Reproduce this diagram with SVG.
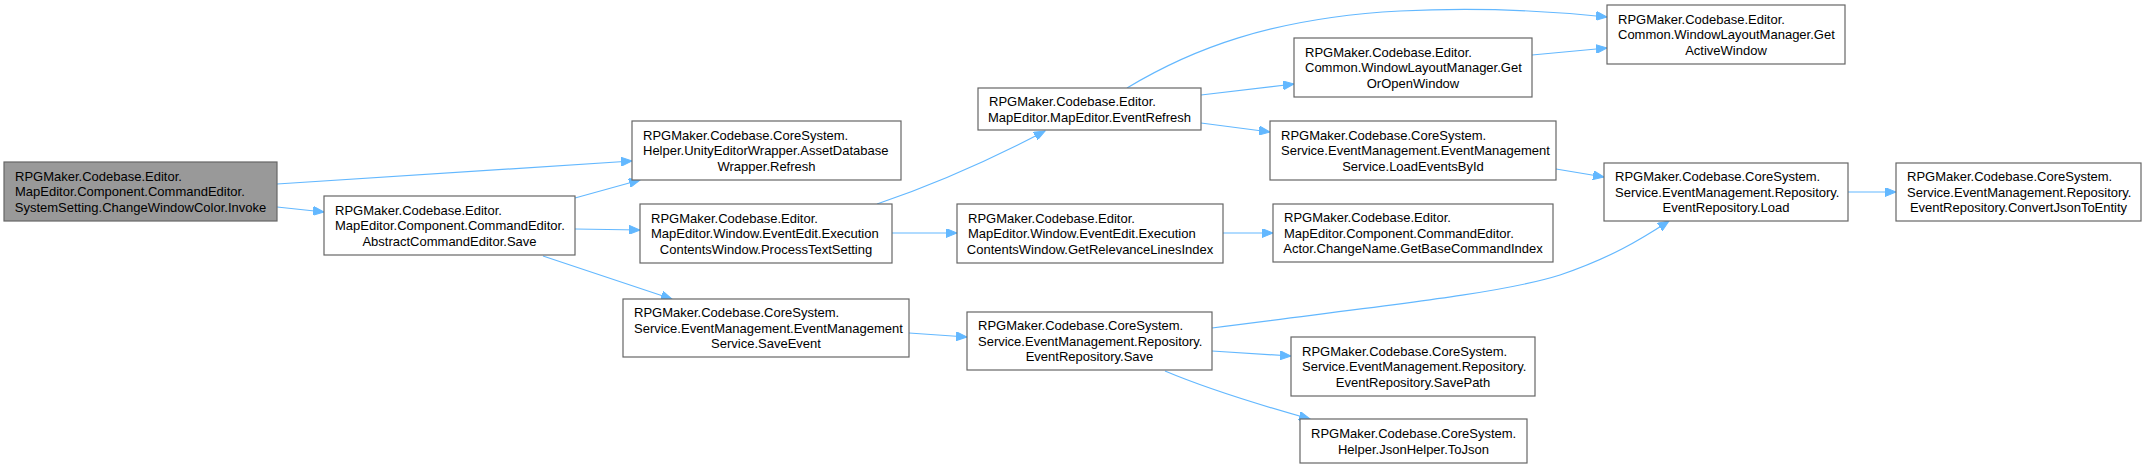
<svg xmlns="http://www.w3.org/2000/svg" width="2146" height="468" viewBox="0 0 2146 468">
<style>
.n rect{fill:#fff;stroke:#666;stroke-width:1.2}
.n.m rect{fill:#999}
text{font-family:"Liberation Sans",Arial,sans-serif;font-size:13px;fill:#000}
.c{text-anchor:middle}
#edges path{fill:none;stroke:#63b8ff;stroke-width:1.2;marker-end:url(#ah)}
</style>
<defs>
<marker id="ah" markerUnits="userSpaceOnUse" markerWidth="12" markerHeight="9" refX="11" refY="4.5" orient="auto">
<path d="M0,0 L11,4.5 L0,9 z" fill="#63b8ff" stroke="#63b8ff" stroke-width="1"/>
</marker>
</defs>
<rect width="2146" height="468" fill="#fff"/>
<g id="edges">
<path d="M277,184 L632,161"/>
<path d="M277,207 L324,212"/>
<path d="M575,198 L640,180"/>
<path d="M575,229 L640,230"/>
<path d="M543,256 L672,299"/>
<path d="M877,204 C930,186 990,160 1045,131"/>
<path d="M892,233 L957,233"/>
<path d="M1127,88 C1190,50 1270,18 1400,11 C1480,7 1550,11 1607,17"/>
<path d="M1201,95 L1294,84"/>
<path d="M1201,123 L1270,132"/>
<path d="M1532,55 L1607,48"/>
<path d="M1556,169 L1604,177"/>
<path d="M1223,233 L1273,233"/>
<path d="M909,333 L967,337"/>
<path d="M1212,328 C1380,306 1500,294 1560,275 C1610,258 1640,240 1669,221"/>
<path d="M1212,351 L1291,356"/>
<path d="M1165,371 C1210,390 1260,405 1310,419"/>
<path d="M1848,192 L1896,192"/>
</g>
<g id="n1" class="n m"><rect x="4" y="162" width="273" height="59"/>
<text x="15" y="180.5">RPGMaker.Codebase.Editor.</text><text x="15" y="196">MapEditor.Component.CommandEditor.</text><text x="140.5" y="211.5" class="c">SystemSetting.ChangeWindowColor.Invoke</text></g>
<g id="n2" class="n"><rect x="324" y="196" width="251" height="59"/>
<text x="335" y="214.5">RPGMaker.Codebase.Editor.</text><text x="335" y="230">MapEditor.Component.CommandEditor.</text><text x="449.5" y="245.5" class="c">AbstractCommandEditor.Save</text></g>
<g id="n3" class="n"><rect x="632" y="121" width="269" height="59"/>
<text x="643" y="139.5">RPGMaker.Codebase.CoreSystem.</text><text x="643" y="155">Helper.UnityEditorWrapper.AssetDatabase</text><text x="766.5" y="170.5" class="c">Wrapper.Refresh</text></g>
<g id="n4" class="n"><rect x="640" y="204" width="252" height="59"/>
<text x="651" y="222.5">RPGMaker.Codebase.Editor.</text><text x="651" y="238">MapEditor.Window.EventEdit.Execution</text><text x="766" y="253.5" class="c">ContentsWindow.ProcessTextSetting</text></g>
<g id="n5" class="n"><rect x="978" y="88" width="223" height="42"/>
<text x="989" y="105.5">RPGMaker.Codebase.Editor.</text><text x="1089.5" y="121.5" class="c">MapEditor.MapEditor.EventRefresh</text></g>
<g id="n6" class="n"><rect x="957" y="204" width="266" height="59"/>
<text x="968" y="222.5">RPGMaker.Codebase.Editor.</text><text x="968" y="238">MapEditor.Window.EventEdit.Execution</text><text x="1090" y="253.5" class="c">ContentsWindow.GetRelevanceLinesIndex</text></g>
<g id="n7" class="n"><rect x="623" y="299" width="286" height="58"/>
<text x="634" y="317">RPGMaker.Codebase.CoreSystem.</text><text x="634" y="332.5">Service.EventManagement.EventManagement</text><text x="766" y="348" class="c">Service.SaveEvent</text></g>
<g id="n8" class="n"><rect x="967" y="312" width="245" height="58"/>
<text x="978" y="330">RPGMaker.Codebase.CoreSystem.</text><text x="978" y="345.5">Service.EventManagement.Repository.</text><text x="1089.5" y="361" class="c">EventRepository.Save</text></g>
<g id="n9" class="n"><rect x="1294" y="38" width="238" height="59"/>
<text x="1305" y="56.5">RPGMaker.Codebase.Editor.</text><text x="1305" y="72">Common.WindowLayoutManager.Get</text><text x="1413" y="87.5" class="c">OrOpenWindow</text></g>
<g id="n10" class="n"><rect x="1607" y="5" width="238" height="59"/>
<text x="1618" y="23.5">RPGMaker.Codebase.Editor.</text><text x="1618" y="39">Common.WindowLayoutManager.Get</text><text x="1726" y="54.5" class="c">ActiveWindow</text></g>
<g id="n11" class="n"><rect x="1270" y="121" width="286" height="59"/>
<text x="1281" y="139.5">RPGMaker.Codebase.CoreSystem.</text><text x="1281" y="155">Service.EventManagement.EventManagement</text><text x="1413" y="170.5" class="c">Service.LoadEventsById</text></g>
<g id="n12" class="n"><rect x="1604" y="163" width="244" height="58"/>
<text x="1615" y="181">RPGMaker.Codebase.CoreSystem.</text><text x="1615" y="196.5">Service.EventManagement.Repository.</text><text x="1726" y="212" class="c">EventRepository.Load</text></g>
<g id="n13" class="n"><rect x="1896" y="163" width="245" height="58"/>
<text x="1907" y="181">RPGMaker.Codebase.CoreSystem.</text><text x="1907" y="196.5">Service.EventManagement.Repository.</text><text x="2018.5" y="212" class="c">EventRepository.ConvertJsonToEntity</text></g>
<g id="n14" class="n"><rect x="1273" y="204" width="280" height="58"/>
<text x="1284" y="222">RPGMaker.Codebase.Editor.</text><text x="1284" y="237.5">MapEditor.Component.CommandEditor.</text><text x="1413" y="253" class="c">Actor.ChangeName.GetBaseCommandIndex</text></g>
<g id="n15" class="n"><rect x="1291" y="337" width="244" height="59"/>
<text x="1302" y="355.5">RPGMaker.Codebase.CoreSystem.</text><text x="1302" y="371">Service.EventManagement.Repository.</text><text x="1413" y="386.5" class="c">EventRepository.SavePath</text></g>
<g id="n16" class="n"><rect x="1300" y="419" width="227" height="44"/>
<text x="1311" y="437.5">RPGMaker.Codebase.CoreSystem.</text><text x="1413.5" y="453.5" class="c">Helper.JsonHelper.ToJson</text></g>
</svg>
